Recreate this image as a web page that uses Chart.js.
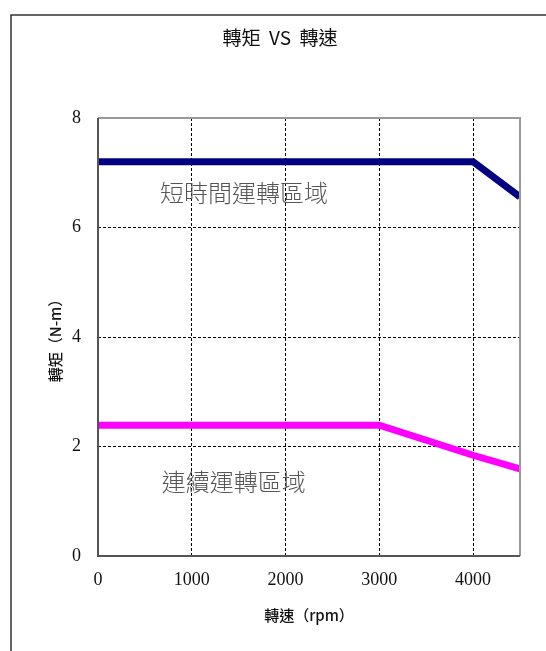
<!DOCTYPE html>
<html>
<head>
<meta charset="utf-8">
<script src="https://cdn.jsdelivr.net/npm/chart.js@4/dist/chart.umd.min.js"></script>
<style>
  html, body { margin: 0; padding: 0; background: #fff; }
  #wrap { width: 546px; height: 651px; }
</style>
</head>
<body>
<div id="wrap"><canvas id="myChart" width="546" height="651"></canvas></div>
<script>
// data
var xTicks = [0, 1000, 2000, 3000, 4000];
var yTicks = [0, 2, 4, 6, 8];
var speedShort = [0, 4000, 4500];
var torqueShort = [7.2, 7.2, 6.56];
var speedCont = [0, 3000, 4000, 4500];
var torqueCont = [2.39, 2.39, 1.84, 1.59];

var chartTitle = "轉矩  VS  轉速";
var xTitle = "轉速（rpm）";
var yTitle = "轉矩（N-m）";
var zoneShort = "短時間運轉區域";
var zoneCont = "連續運轉區域";

function toPoints(xs, ys) {
    var pts = [];
    for (var i = 0; i < xs.length; i++) pts.push({x: xs[i], y: ys[i]});
    return pts;
}

var numFont = {family: "'Liberation Serif', serif", size: 18};
var cjkFont = "'Noto Sans CJK TC', sans-serif";

// frame, plot border, title and zone labels
var decor = {
    id: "decor",
    beforeDraw: function(chart) {
        var ctx = chart.ctx;
        ctx.save();
        ctx.strokeStyle = "#333";
        ctx.lineWidth = 1.5;
        ctx.beginPath();
        ctx.moveTo(11, 651);
        ctx.lineTo(11, 15);
        ctx.lineTo(546, 15);
        ctx.stroke();

        ctx.fillStyle = "#111";
        ctx.font = "normal 19px " + cjkFont;
        ctx.textAlign = "center";
        ctx.textBaseline = "middle";
        ctx.fillText(chartTitle, 280, 38);
        ctx.restore();
    },
    afterDatasetsDraw: function(chart) {
        var ctx = chart.ctx;
        var a = chart.chartArea;
        var xs = chart.scales.x, ys = chart.scales.y;
        ctx.save();
        ctx.lineWidth = 2;
        ctx.strokeStyle = "#999";
        ctx.beginPath();
        ctx.moveTo(a.left, a.top);
        ctx.lineTo(a.right, a.top);
        ctx.lineTo(a.right, a.bottom);
        ctx.stroke();
        ctx.strokeStyle = "#555";
        ctx.beginPath();
        ctx.moveTo(a.left, a.top);
        ctx.lineTo(a.left, a.bottom);
        ctx.lineTo(a.right, a.bottom);
        ctx.stroke();

        ctx.fillStyle = "#555";
        ctx.font = "300 24px " + cjkFont;
        ctx.textAlign = "left";
        ctx.textBaseline = "middle";
        ctx.fillText(zoneShort, xs.getPixelForValue(660), ys.getPixelForValue(6.64));
        ctx.fillText(zoneCont, xs.getPixelForValue(680), ys.getPixelForValue(1.35));
        ctx.restore();
    }
};

new Chart("myChart", {
    type: "line",
    data: {
        datasets: [{
            label: zoneShort,
            data: toPoints(speedShort, torqueShort),
            borderColor: "#000080",
            borderWidth: 7,
            pointRadius: 0,
            tension: 0
        }, {
            label: zoneCont,
            data: toPoints(speedCont, torqueCont),
            borderColor: "#ff00ff",
            borderWidth: 7,
            pointRadius: 0,
            tension: 0
        }]
    },
    options: {
        responsive: false,
        animation: false,
        layout: {padding: {left: 0, right: 26, top: 118, bottom: 0}},
        plugins: {
            legend: {display: false},
            title: {display: false},
            tooltip: {enabled: false}
        },
        scales: {
            x: {
                type: "linear",
                min: 0,
                max: 4500,
                afterBuildTicks: function(scale) {
                    scale.ticks = xTicks.map(function(v) { return {value: v}; });
                },
                afterFit: function(scale) { scale.height = 95; },
                grid: {
                    drawTicks: false,
                    color: function(c) { return c.tick && c.tick.value === 0 ? "rgba(0,0,0,0)" : "#000"; },
                    lineWidth: 1
                },
                border: {display: false, dash: [3, 2]},
                ticks: {
                    color: "#111", font: numFont, padding: 13, maxRotation: 0,
                    callback: function(v) { return String(v); }
                },
                title: {
                    display: true,
                    text: xTitle,
                    color: "#111",
                    font: {family: cjkFont, size: 15, weight: "500"},
                    padding: {top: 0, bottom: 27}
                }
            },
            y: {
                min: 0,
                max: 8,
                afterBuildTicks: function(scale) {
                    scale.ticks = yTicks.map(function(v) { return {value: v}; });
                },
                afterFit: function(scale) { scale.width = 98; },
                grid: {
                    drawTicks: false,
                    color: function(c) { return c.tick && (c.tick.value === 0 || c.tick.value === 8) ? "rgba(0,0,0,0)" : "#000"; },
                    lineWidth: 1
                },
                border: {display: false, dash: [3, 2]},
                ticks: {
                    color: "#111", font: numFont, padding: 17,
                    callback: function(v) { return String(v); }
                },
                title: {
                    display: true,
                    text: yTitle,
                    color: "#111",
                    font: {family: cjkFont, size: 15, weight: "500"},
                    padding: {top: 46, bottom: 0}
                }
            }
        }
    },
    plugins: [decor]
});
</script>
</body>
</html>
